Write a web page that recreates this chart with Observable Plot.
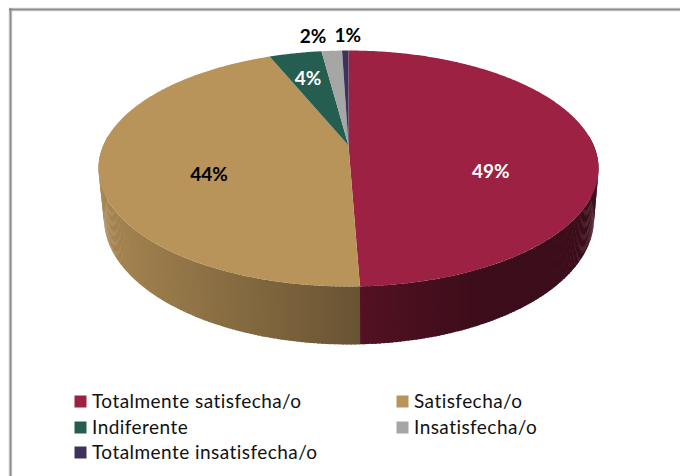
<!DOCTYPE html>
<html>
<head>
<meta charset="utf-8">
<script src="https://cdn.jsdelivr.net/npm/d3@7"></script>
<script src="https://cdn.jsdelivr.net/npm/@observablehq/plot@0.6"></script>
<style>
html,body{margin:0;padding:0;background:#fff}
svg{display:block}
.legend-text text{letter-spacing:.45px}
</style>
</head>
<body>
<div id="chart"></div>
<script>
// Data
const categories = ["Totalmente satisfecha/o","Satisfecha/o","Indiferente","Insatisfecha/o","Totalmente insatisfecha/o"];
const shares = [49.4, 44.4, 4.1, 1.6, 0.5];
const valueLabels = ["49%","44%","4%","2%","1%"];
const sliceColors = ["#9c2143","#b9945a","#255e50","#a6a6a6","#40315a"];

// Tilted-disc projection: a unit circle seen in perspective
const A = 0.195;
const topFace = {cx:348, cy:145, q:245.2, p:113.5};
const baseFace = {cx:348.5, cy:193.4, q:240.3, p:121.2};
const project = (face, deg, f = 1) => {
  const t = deg * Math.PI / 180, u = f * Math.sin(t), v = f * Math.cos(t), w = 1 + A * v;
  return [face.cx + face.q * u / w, face.cy - face.p * v / w];
};

// Cumulative angles (clockwise from the top of the disc)
let acc = 0;
const slices = categories.map((name, i) => {
  const a0 = acc / 100 * 360; acc += shares[i];
  return {name, i, a0, a1: acc / 100 * 360, color: sliceColors[i]};
});

const shadeAt = x => x <= 360
  ? 0.90 + (0.56 - 0.90) * (x - 98) / (360 - 98)
  : Math.max(0.385, 0.53 + (0.385 - 0.53) * (x - 360) / 120);
const shaded = (c, k) => { const r = d3.rgb(c); return d3.rgb(r.r * k, r.g * k, r.b * k).formatHex(); };

// Side wall: thin strips along the front half, each overlapping the next
const wall = [];
slices.forEach(s => {
  const lo = Math.max(s.a0, 85), hi = Math.min(s.a1, 275);
  if (hi <= lo) return;
  const n = Math.ceil((hi - lo) / 0.8);
  for (let j = 0; j < n; j++) {
    const a = lo + (hi - lo) * j / n, b = lo + (hi - lo) * (j + 1) / n + 0.3;
    const p = [project(topFace, a), project(topFace, b), project(baseFace, b), project(baseFace, a)];
    const color = shaded(s.color, shadeAt((p[0][0] + p[1][0]) / 2));
    p.forEach(([x, y]) => wall.push({x, y, key: `${s.i}-${j}`, color}));
  }
});

// Top face: wedge from the projected centre to the rim
const face = [];
slices.forEach(s => {
  const n = Math.max(2, Math.ceil((s.a1 - s.a0) / 0.5));
  face.push({x: topFace.cx, y: topFace.cy, key: s.i, color: s.color});
  for (let j = 0; j <= n; j++) {
    const [x, y] = project(topFace, s.a0 + (s.a1 - s.a0) * j / n);
    face.push({x, y, key: s.i, color: s.color});
  }
});

// Value labels: along the slice's mid radius, nudged as in the original
const labelLayout = [
  {f:.58, dx:0.5, dy:28, color:"#fff"},
  {f:.556, dx:-3, dy:16, color:"#000"},
  {f:.748, dx:1, dy:5, color:"#fff"},
  {f:1.16, dx:-16.5, dy:-2, color:"#000"},
  {f:1.16, dx:3, dy:-2, color:"#000"}
];
const labels = slices.map((s, i) => {
  const l = labelLayout[i];
  const [x, y] = project(topFace, (s.a0 + s.a1) / 2, l.f);
  return {x: x + l.dx, y: y + l.dy, text: valueLabels[i], color: l.color};
});

// Legend: two columns, filled row by row
const colX = [74, 396], rowY = [401, 427, 452];
const legend = categories.map((name, i) => ({
  name, color: sliceColors[i],
  x: colX[i % 2] + 6, y: rowY[Math.floor(i / 2)], tx: colX[i % 2] + 17.5
}));

const font = "Lato, Carlito, Calibri, sans-serif";
const chart = Plot.plot({
  width: 680, height: 476, margin: 0,
  x: {axis: null, domain: [0, 680], range: [0, 680]},
  y: {axis: null, domain: [0, 476], range: [0, 476]},
  color: {type: "identity"},
  style: {fontFamily: font, background: "#fff"},
  marks: [
    Plot.ruleX([10], {y1: 9, y2: 476, stroke: "#e6e6e6", strokeWidth: 4}),
    Plot.ruleY([9], {x1: 9, x2: 680, stroke: "#e6e6e6", strokeWidth: 4}),
    Plot.ruleX([10], {y1: 8, y2: 476, stroke: "#8c8c8c", strokeWidth: 2}),
    Plot.ruleY([9], {x1: 9, x2: 680, stroke: "#8c8c8c", strokeWidth: 2}),
    Plot.line(wall, {x: "x", y: "y", z: "key", fill: "color", stroke: "none"}),
    Plot.line(face, {x: "x", y: "y", z: "key", fill: "color", stroke: "none"}),
    Plot.text(labels, {x: "x", y: "y", text: "text", fill: "color", fontSize: 19, fontWeight: 700, textAnchor: "middle", lineAnchor: "middle"}),
    Plot.dot(legend, {x: "x", y: "y", fill: "color", symbol: "square", r: 6.77, stroke: "none"}),
    Plot.text(legend, {x: "tx", y: "y", text: "name", fill: "#111", fontSize: 19, textAnchor: "start", lineAnchor: "middle", className: "legend-text"})
  ]
});
document.getElementById("chart").append(chart);
</script>
</body>
</html>
